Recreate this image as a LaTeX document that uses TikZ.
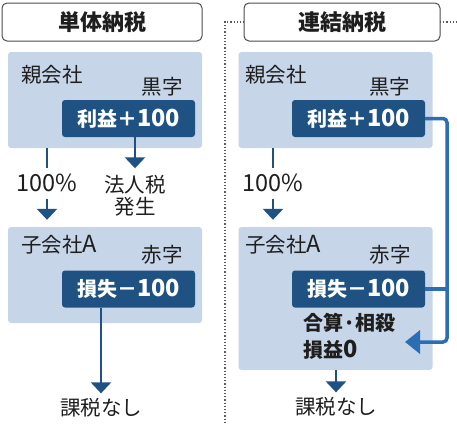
\documentclass[tikz,border=0pt]{standalone}
\usepackage{fontspec}
\setmainfont{Noto Sans CJK JP}
\usepackage{xcolor}
\usepackage{tikz}
\usetikzlibrary{positioning, arrows.meta, calc}

\definecolor{boxblue}{HTML}{C7D5E9}
\definecolor{darkblue}{HTML}{1F5283}
\definecolor{linkblue}{HTML}{2C6DB3}
\definecolor{textgray}{HTML}{1E1E1E}

% Latin letters and digits run a little larger than the kanji
\newcommand{\bignum}[1]{{\fontsize{23.5}{24}\selectfont #1}}

\begin{document}
\begin{tikzpicture}[x=1pt, y=-1pt, text=textgray,
    titlebox/.style={draw=gray!60!black, line width=1pt, rounded corners=5pt, fill=white,
        minimum height=38pt, font=\fontsize{22}{24}\selectfont\bfseries},
    company/.style={fill=boxblue, rounded corners=3pt, minimum width=194pt, inner sep=0pt},
    amount/.style={fill=darkblue, text=white, rounded corners=3pt, minimum width=133pt,
        minimum height=37pt, inner sep=0pt, font=\fontsize{20}{22}\selectfont\bfseries},
    label/.style={font=\fontsize{20.5}{22}\selectfont, inner sep=0pt},
    flow/.style={draw=darkblue, line width=2.5pt, -{Triangle[width=20pt, length=11pt]}},
    stem/.style={draw=darkblue, line width=2.5pt},
    link/.style={draw=linkblue, line width=3.5pt, rounded corners=4pt}]
    \useasboundingbox (0,0) rectangle (457,423);

    % Divider
    \draw[gray!70!black, dotted, line width=1.2pt] (225,423) -- (225,22) -- (244,22);
    \draw[gray!70!black, dotted, line width=1.2pt] (440,22) -- (457,22);

    % Titles
    \node[titlebox, minimum width=200pt] (single) at (102,22) {単体納税};
    \node[titlebox, minimum width=196pt] (consol) at (342,22) {連結納税};

    % Left: single filing
    \node[company, minimum height=96pt] (pl) at (105,100) {};
    \node[label, anchor=west] (plName) at (21,75) {親会社};
    \node[label] (plTag) at (162,87) {黒字};
    \node[amount] (plAmt) at (128.5,118.5) {利益＋\bignum{100}};
    \node[label, align=center] (tax) at (135,196) {法人税\\発生};
    \node[label] (plPct) at (47,183) {\bignum{100\%}};

    \node[company, minimum height=96pt] (cl) at (105,275) {};
    \node[label, anchor=west] (clName) at (21,245) {子会社\bignum{A}};
    \node[label] (clTag) at (162,255) {赤字};
    \node[amount] (clAmt) at (128.5,289) {損失－\bignum{100}};
    \node[label] (clRes) at (101,408) {課税なし};

    \draw[flow] (plAmt.south -| tax) -- ([yshift=7pt]tax.north);
    \draw[stem] (pl.south -| plPct) -- ([yshift=6pt]plPct.north);
    \draw[flow] ([yshift=-7pt]plPct.south) -- ([yshift=7pt]cl.north -| plPct);
    \draw[flow] (clAmt.south -| clRes) -- ([yshift=5pt]clRes.north);

    % Right: consolidated filing
    \node[company, minimum height=96pt] (pr) at (335.5,100) {};
    \node[label, anchor=west] (prName) at (245,75) {親会社};
    \node[label] (prTag) at (389.5,87) {黒字};
    \node[amount] (prAmt) at (358.5,118.5) {利益＋\bignum{100}};
    \node[label] (prPct) at (273,183) {\bignum{100\%}};

    \node[company, minimum height=143pt] (cr) at (335.5,298.5) {};
    \node[label, anchor=west] (crName) at (245,245) {子会社\bignum{A}};
    \node[label] (crTag) at (390,255) {赤字};
    \node[amount] (crAmt) at (358.5,289) {損失－\bignum{100}};
    \node[label, align=left, anchor=north west, font=\fontsize{20}{27}\selectfont\bfseries]
        (sum) at (303,313) {合算·相殺\\損益\bignum{0}};
    \node[label] (crRes) at (336,407) {課税なし};

    \draw[stem] (pr.south -| prPct) -- ([yshift=6pt]prPct.north);
    \draw[flow] ([yshift=-7pt]prPct.south) -- ([yshift=7pt]cr.north -| prPct);
    \draw[flow] (cr.south -| crRes) -- ([yshift=5pt]crRes.north);

    % Offset connector
    \coordinate (bend) at (447,342);
    \coordinate (tip) at (405,342);
    \draw[link, -{Triangle[width=23pt, length=15pt]}] (prAmt.east) -| (bend) -- (tip);
    \draw[link] (crAmt.east) -- (crAmt.east -| bend);

\end{tikzpicture}
\end{document}
